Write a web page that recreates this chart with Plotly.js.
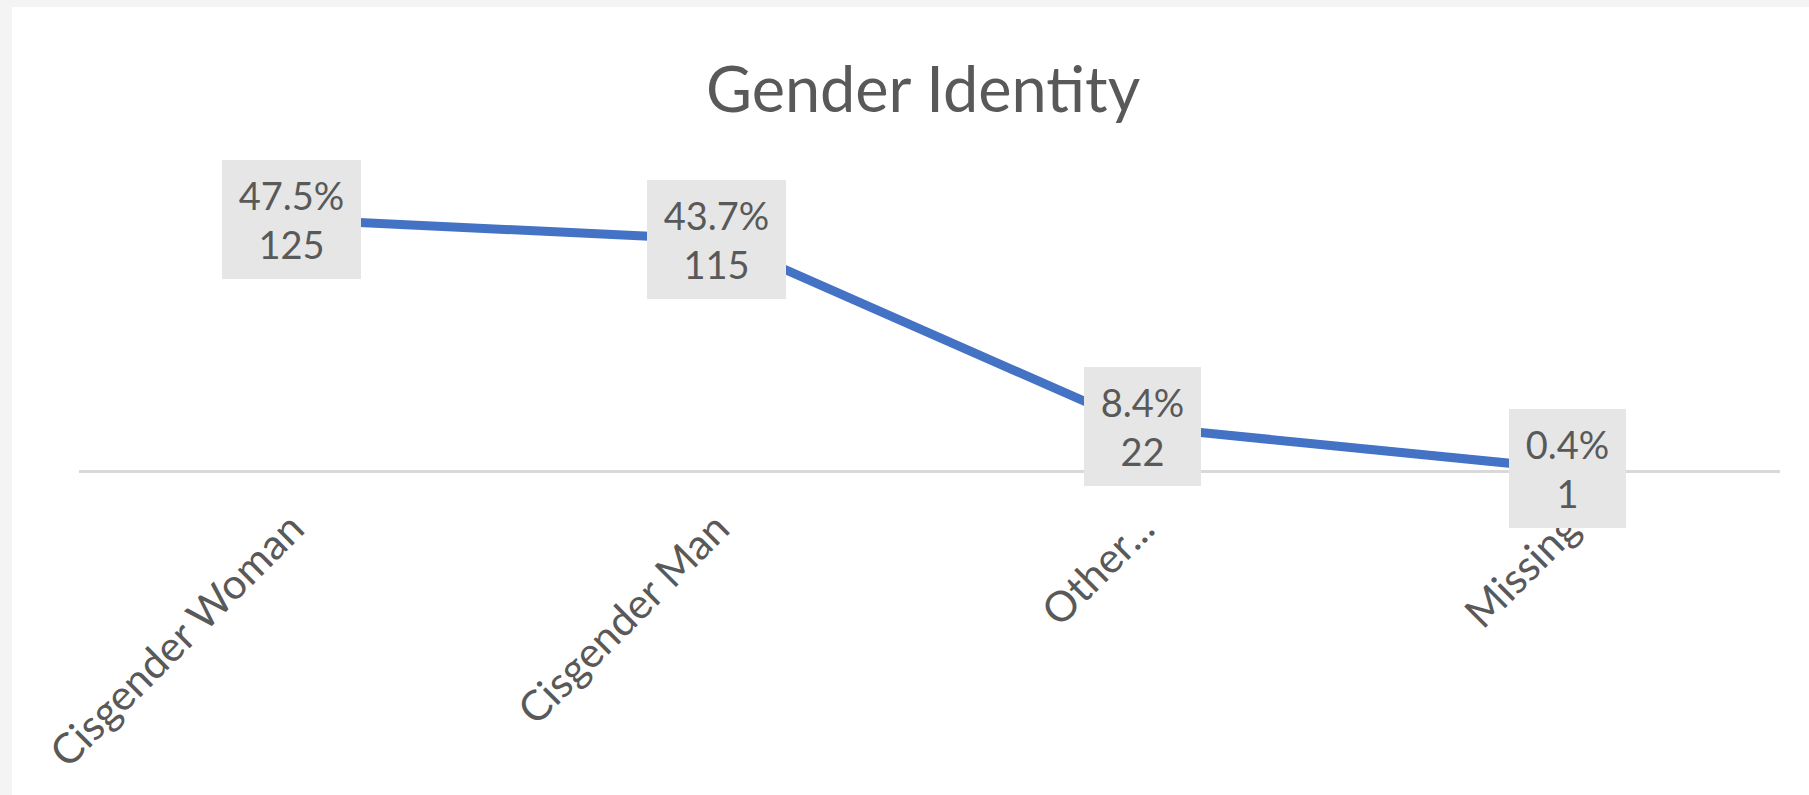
<!DOCTYPE html>
<html>
<head>
<meta charset="utf-8">
<script src="https://cdn.plot.ly/plotly-3.0.1.min.js"></script>
<style>
  html, body { margin: 0; padding: 0; background: #f4f4f4; width: 1809px; height: 795px; overflow: hidden; }
  #chart { position: absolute; left: 12px; top: 7px; width: 1797px; height: 788px; background: #ffffff; }
</style>
</head>
<body>
<div id="chart"></div>
<script>
const categories = ["Cisgender Woman", "Cisgender Man", "Other...", "Missing"];
const counts = [125, 115, 22, 1];
const percentLabels = ["47.5%", "43.7%", "8.4%", "0.4%"];

const textColor = "#595959";
const fontFamily = "Lato, 'Open Sans', sans-serif";

const trace = {
  type: "scatter",
  mode: "lines",
  x: categories,
  y: counts,
  line: { color: "#4472C4", width: 9 },
  hoverinfo: "skip",
  cliponaxis: false
};

const annotations = categories.map((c, i) => ({
  x: c,
  y: counts[i],
  xref: "x",
  yref: "y",
  text: "\u2009" + percentLabels[i] + "\u2009<br>" + counts[i],
  showarrow: false,
  xanchor: "center",
  yanchor: "middle",
  bgcolor: "#e6e6e6",
  borderpad: 12,
  borderwidth: 0,
  font: { family: fontFamily, size: 38, color: textColor }
}));

const layout = {
  width: 1797,
  height: 788,
  paper_bgcolor: "#ffffff",
  plot_bgcolor: "#ffffff",
  margin: { l: 66.5, r: 29, t: 161.9, b: 324.3 },
  showlegend: false,
  title: {
    text: "Gender Identity",
    font: { family: fontFamily, size: 63, color: textColor },
    x: 0.507,
    xref: "container",
    xanchor: "center",
    y: 1 - 83 / 788,
    yref: "container",
    yanchor: "middle"
  },
  xaxis: {
    type: "category",
    range: [-0.5, 3.5],
    showgrid: false,
    zeroline: false,
    showline: false,
    ticks: "outside",
    ticklen: 15,
    tickcolor: "rgba(0,0,0,0)",
    tickangle: -45,
    tickfont: { family: fontFamily, size: 42, color: textColor },
    fixedrange: true
  },
  yaxis: {
    range: [0, 150],
    showgrid: false,
    zeroline: true,
    zerolinecolor: "#d9d9d9",
    zerolinewidth: 3,
    showticklabels: false,
    ticks: "",
    showline: false,
    fixedrange: true
  },
  annotations: annotations
};

Plotly.newPlot("chart", [trace], layout, { displayModeBar: false, staticPlot: true });
</script>
</body>
</html>
